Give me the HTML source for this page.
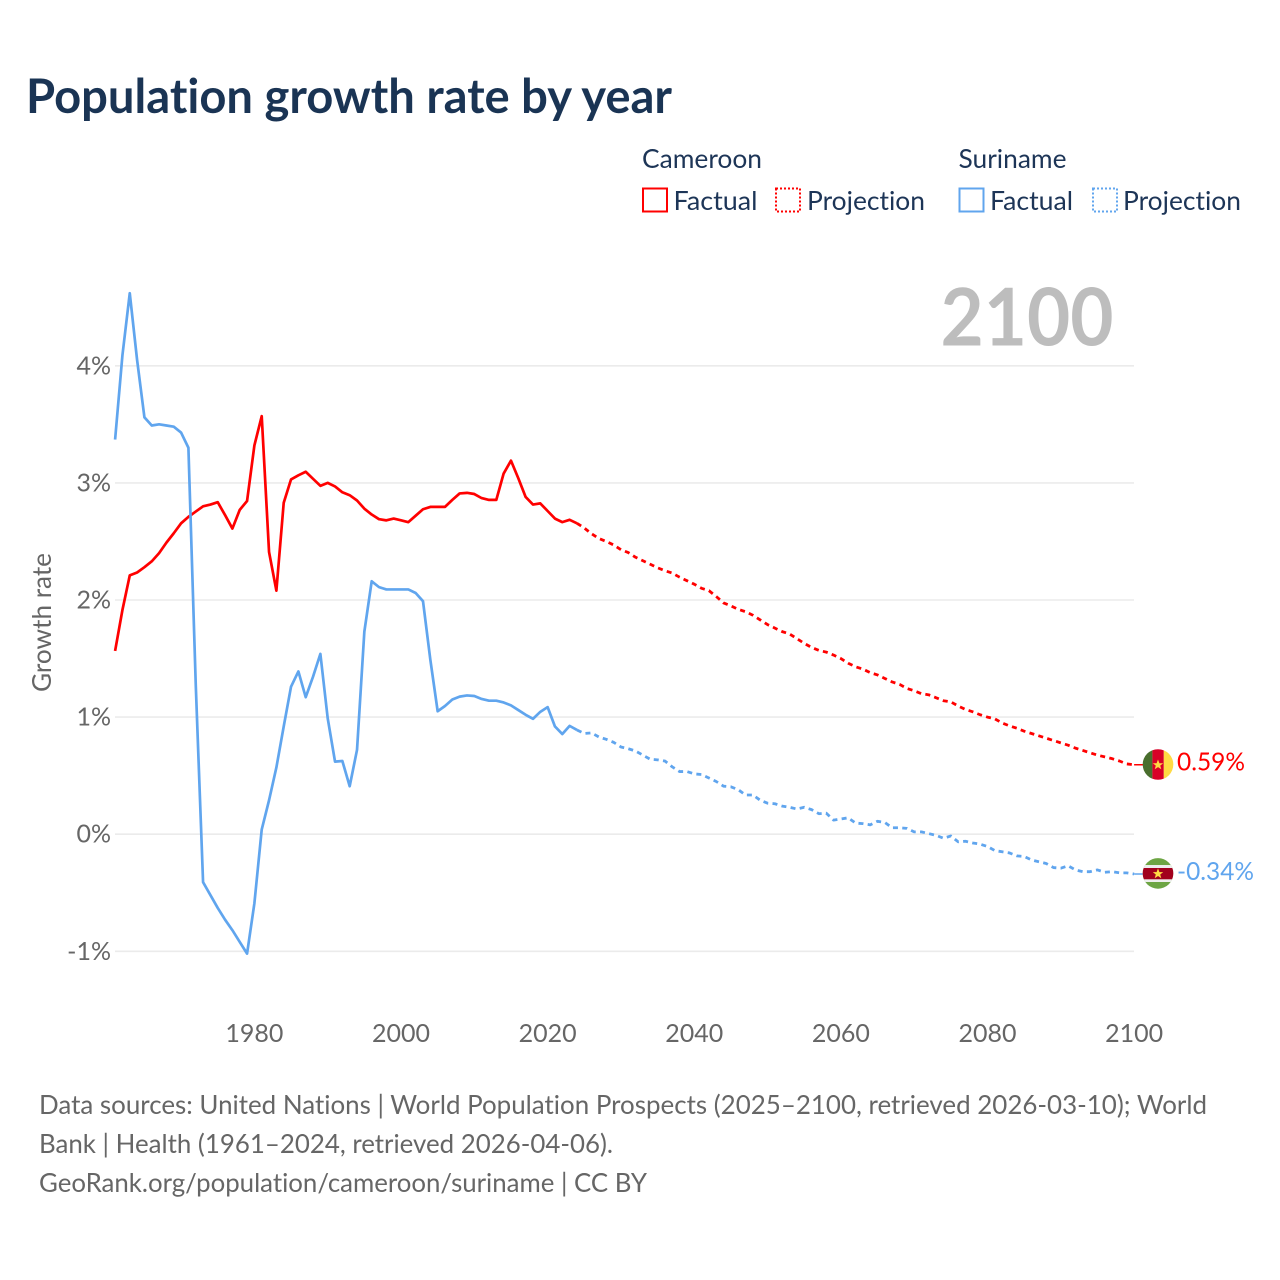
<!DOCTYPE html>
<html lang="en">
<head>
<meta charset="utf-8">
<title>Population growth rate by year</title>
<style>
html,body{margin:0;padding:0;background:#fff}
svg{display:block}
text{font-family:"Lato","Carlito","Liberation Sans",sans-serif;font-variant-ligatures:none;font-feature-settings:"liga" 0,"clig" 0}
</style>
</head>
<body>
<svg id="chart" xmlns="http://www.w3.org/2000/svg" width="1280" height="1280" viewBox="0 0 1280 1280">
  <rect x="0" y="0" width="1280" height="1280" fill="#fff"/>
  <text x="26" y="113" font-size="48" font-weight="700" fill="#1a3454" textLength="646" lengthAdjust="spacingAndGlyphs">Population growth rate by year</text>

  <g font-size="26" fill="#1d3557">
    <text x="642" y="168" textLength="120" lengthAdjust="spacingAndGlyphs">Cameroon</text>
    <text x="958.5" y="168" textLength="108" lengthAdjust="spacingAndGlyphs">Suriname</text>
    <rect x="643" y="188.5" width="24" height="23" fill="none" stroke="#ff0000" stroke-width="2"/>
    <text x="673.5" y="210" textLength="84" lengthAdjust="spacingAndGlyphs">Factual</text>
    <rect x="776" y="188.5" width="24" height="23" fill="none" stroke="#ff0000" stroke-width="2" stroke-dasharray="2 2"/>
    <text x="807" y="210" textLength="118" lengthAdjust="spacingAndGlyphs">Projection</text>
    <rect x="959.5" y="188.5" width="24" height="23" fill="none" stroke="#60a5ee" stroke-width="2"/>
    <text x="990" y="210" textLength="83" lengthAdjust="spacingAndGlyphs">Factual</text>
    <rect x="1093" y="188.5" width="24" height="23" fill="none" stroke="#60a5ee" stroke-width="2" stroke-dasharray="2 2"/>
    <text x="1123" y="210" textLength="118" lengthAdjust="spacingAndGlyphs">Projection</text>
  </g>

  <g id="grid"></g>
  <text x="940.5" y="345.5" font-size="80" font-weight="700" fill="#bdbdbd" textLength="173" lengthAdjust="spacingAndGlyphs">2100</text>
  <g id="y-ticks" font-size="25" fill="#666"></g>
  <g id="x-ticks" font-size="25" fill="#666"></g>
  <text transform="translate(51,622.5) rotate(-90)" text-anchor="middle" font-size="26" fill="#666" textLength="139" lengthAdjust="spacingAndGlyphs">Growth rate</text>
  <g id="series"></g>

  <g>
    <clipPath id="clip-cm"><circle cx="1158" cy="764.5" r="15.3"/></clipPath>
    <g clip-path="url(#clip-cm)">
      <rect x="1142" y="748" width="10.4" height="33" fill="#496e2d"/>
      <rect x="1152.4" y="748" width="11.4" height="33" fill="#d80027"/>
      <rect x="1163.8" y="748" width="10" height="33" fill="#ffda44"/>
    </g>
    <polygon points="1158,759.5 1159.4,763.2 1163.2,763.2 1160.2,765.6 1161.3,769.3 1158,767.1 1154.7,769.3 1155.8,765.6 1152.8,763.2 1156.6,763.2" fill="#ffda44"/>
  </g>
  <g>
    <clipPath id="clip-sr"><circle cx="1158" cy="873.4" r="15.3"/></clipPath>
    <g clip-path="url(#clip-sr)">
      <rect x="1142" y="857" width="32" height="33" fill="#6da544"/>
      <rect x="1142" y="865" width="32" height="17" fill="#eeeeee"/>
      <rect x="1142" y="868" width="32" height="11.3" fill="#a2001d"/>
    </g>
    <polygon points="1158,868.4 1159.4,872.1 1163.2,872.1 1160.2,874.5 1161.3,878.2 1158,876 1154.7,878.2 1155.8,874.5 1152.8,872.1 1156.6,872.1" fill="#ffda44"/>
  </g>
  <text x="1177" y="770.5" font-size="25.5" fill="#ff0000" textLength="68" lengthAdjust="spacingAndGlyphs">0.59%</text>
  <text x="1177" y="880" font-size="25.5" fill="#60a5ee" textLength="77" lengthAdjust="spacingAndGlyphs">-0.34%</text>

  <g font-size="26" fill="#666">
    <text x="39" y="1114" textLength="1168" lengthAdjust="spacingAndGlyphs">Data sources: United Nations | World Population Prospects (2025–2100, retrieved 2026-03-10); World</text>
    <text x="39" y="1153" textLength="574" lengthAdjust="spacingAndGlyphs">Bank | Health (1961–2024, retrieved 2026-04-06).</text>
    <text x="39" y="1192" textLength="608" lengthAdjust="spacingAndGlyphs">GeoRank.org/population/cameroon/suriname | CC BY</text>
  </g>
</svg>
<script>
const firstYear = 1961;
const lastFactualYear = 2024;
const lastYear = 2100;
const xTickYears = [1980, 2000, 2020, 2040, 2060, 2080, 2100];
const yTickValues = [4, 3, 2, 1, 0, -1];

const cameroonFactual = [1.565,1.915,2.21,2.235,2.28,2.33,2.40,2.49,2.57,2.655,
  2.71,2.755,2.80,2.815,2.835,2.725,2.61,2.77,2.845,3.32,
  3.57,2.41,2.08,2.83,3.03,3.065,3.095,3.035,2.975,3.00,
  2.97,2.92,2.895,2.85,2.78,2.73,2.69,2.68,2.695,2.68,
  2.665,2.72,2.775,2.795,2.795,2.795,2.855,2.91,2.915,2.905,
  2.87,2.855,2.855,3.08,3.19,3.04,2.88,2.815,2.825,2.76,
  2.695,2.665,2.685,2.655];
const cameroonProjection = [2.615,2.565,2.525,2.50,2.47,2.43,2.405,2.365,2.335,2.305,
  2.275,2.25,2.23,2.195,2.165,2.135,2.10,2.08,2.03,1.975,
  1.95,1.92,1.90,1.87,1.83,1.79,1.76,1.73,1.71,1.67,
  1.63,1.595,1.57,1.555,1.53,1.50,1.46,1.43,1.41,1.38,
  1.36,1.33,1.30,1.28,1.245,1.225,1.20,1.19,1.165,1.14,
  1.13,1.095,1.065,1.045,1.02,1.00,0.985,0.95,0.925,0.905,
  0.88,0.86,0.84,0.82,0.80,0.78,0.76,0.735,0.715,0.695,
  0.675,0.66,0.645,0.625,0.60,0.593];
const surinameFactual = [3.37,4.09,4.62,4.05,3.56,3.49,3.50,3.49,3.48,3.43,
  3.30,1.28,-0.41,-0.52,-0.63,-0.73,-0.82,-0.92,-1.02,-0.59,
  0.04,0.29,0.57,0.92,1.26,1.39,1.17,1.345,1.54,0.99,
  0.62,0.625,0.41,0.72,1.73,2.16,2.11,2.09,2.09,2.09,
  2.09,2.06,1.99,1.49,1.05,1.095,1.15,1.175,1.185,1.18,
  1.155,1.14,1.14,1.125,1.10,1.06,1.02,0.985,1.045,1.085,
  0.92,0.855,0.925,0.89];
const surinameProjection = [0.86,0.865,0.83,0.81,0.785,0.745,0.73,0.71,0.675,0.64,
  0.635,0.625,0.575,0.535,0.535,0.515,0.51,0.48,0.45,0.41,
  0.405,0.38,0.335,0.335,0.29,0.265,0.26,0.24,0.23,0.215,
  0.23,0.21,0.175,0.18,0.12,0.13,0.14,0.095,0.09,0.08,
  0.11,0.10,0.055,0.055,0.05,0.02,0.02,0.005,-0.01,-0.035,
  -0.015,-0.065,-0.06,-0.075,-0.085,-0.105,-0.14,-0.15,-0.16,-0.185,
  -0.19,-0.22,-0.235,-0.25,-0.285,-0.29,-0.27,-0.305,-0.32,-0.32,
  -0.305,-0.325,-0.32,-0.33,-0.33,-0.34];

const SVG_NS = 'http://www.w3.org/2000/svg';
function xScale(year) { return 115.1 + (year - firstYear) * 7.331; }
function yScale(value) { return 834.2 - value * 117.1; }

function pointsFrom(values, startYear) {
  return values.map(function (v, i) {
    return xScale(startYear + i).toFixed(2) + ',' + yScale(v).toFixed(2);
  });
}

function addLine(name, pts, color, width, dash) {
  const el = document.createElementNS(SVG_NS, 'polyline');
  
  
  el.setAttribute('points', pts.join(' '));
  el.setAttribute('fill', 'none');
  el.setAttribute('stroke', color);
  el.setAttribute('stroke-width', width);
  el.setAttribute('stroke-linejoin', 'round');
  if (dash) el.setAttribute('stroke-dasharray', dash);
  document.getElementById('series').appendChild(el);
}

yTickValues.forEach(function (v) {
  const line = document.createElementNS(SVG_NS, 'line');
  
  
  line.setAttribute('x1', 115);
  line.setAttribute('x2', 1134);
  line.setAttribute('y1', yScale(v));
  line.setAttribute('y2', yScale(v));
  line.setAttribute('stroke', '#ebebeb');
  line.setAttribute('stroke-width', 1.6);
  document.getElementById('grid').appendChild(line);

  const label = document.createElementNS(SVG_NS, 'text');
  
  
  label.setAttribute('x', 111);
  label.setAttribute('y', yScale(v) + 8.5);
  label.setAttribute('text-anchor', 'end');
  label.textContent = v + '%';
  document.getElementById('y-ticks').appendChild(label);
});

xTickYears.forEach(function (yr) {
  const label = document.createElementNS(SVG_NS, 'text');
  
  
  label.setAttribute('x', xScale(yr));
  label.setAttribute('y', 1042);
  label.setAttribute('text-anchor', 'middle');
  label.textContent = String(yr);
  document.getElementById('x-ticks').appendChild(label);
});

const seriesList = [
  ['cameroon', cameroonFactual, cameroonProjection, '#ff0000'],
  ['suriname', surinameFactual, surinameProjection, '#60a5ee']
];
seriesList.forEach(function (s) {
  const factualPts = pointsFrom(s[1], firstYear);
  const projPts = pointsFrom(s[2], lastFactualYear + 1);
  addLine(s[0] + '-factual-line', factualPts, s[3], 2.7, null);
  addLine(s[0] + '-projection-line', [factualPts[factualPts.length - 1]].concat(projPts), s[3], 2.8, '5 4.3');
  const endValue = s[2][s[2].length - 1];
  const endPt = xScale(lastYear).toFixed(2) + ',' + yScale(endValue).toFixed(2);
  const tailPt = (xScale(lastYear) + 10).toFixed(2) + ',' + yScale(endValue).toFixed(2);
  addLine(s[0] + '-flag-connector', [endPt, tailPt], s[3], 1.5, null);
});
</script>
</body>
</html>
